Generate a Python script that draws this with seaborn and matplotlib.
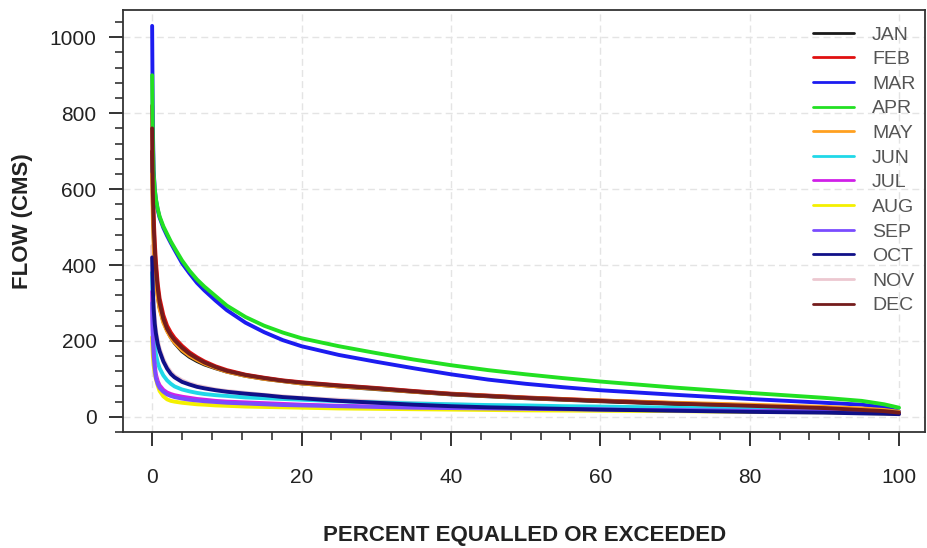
import matplotlib
matplotlib.use("Agg")
import matplotlib.pyplot as plt
from matplotlib.ticker import MultipleLocator
import pandas as pd
import seaborn as sns

# Percent of time flow is equalled or exceeded
percent = [0, 0.05, 0.1, 0.2, 0.35, 0.5, 0.75, 1, 1.5, 2, 2.5, 3, 4, 5, 6, 7, 8.5, 10,
           12.5, 15, 17.5, 20, 25, 30, 35, 40, 45, 50, 55, 60, 70, 80, 90, 95, 98, 100]

# Monthly flow duration curves (CMS)
jan = [700, 620, 560, 480, 410, 370, 320, 288, 252, 228, 210, 195, 173, 158, 147, 138, 128, 119,
       108, 100, 94, 88, 80, 73, 66, 59, 54, 49, 45, 41, 34, 28, 22, 17, 14, 10]
feb = [820, 700, 620, 530, 460, 410, 350, 312, 268, 240, 222, 208, 187, 170, 157, 146, 133, 123,
       111, 103, 96, 91, 83, 76, 68, 61, 56, 51, 47, 43, 36, 30, 23, 19, 16, 12]
mar = [1030, 880, 760, 650, 600, 572, 545, 525, 498, 477, 458, 440, 405, 378, 353, 333, 306, 281,
       248, 223, 202, 186, 163, 145, 128, 112, 98, 87, 78, 70, 58, 47, 37, 32, 25, 14]
apr = [900, 800, 720, 640, 600, 575, 548, 528, 502, 482, 462, 445, 412, 385, 362, 343, 318, 293,
       263, 240, 222, 207, 186, 168, 151, 136, 123, 112, 102, 93, 77, 63, 50, 42, 33, 24]
may = [640, 570, 520, 455, 400, 362, 315, 284, 248, 226, 209, 196, 176, 161, 150, 140, 129, 119,
       108, 100, 94, 88, 80, 74, 66, 60, 55, 50, 46, 43, 37, 32, 26, 22, 18, 13]
jun = [380, 320, 280, 230, 190, 165, 143, 128, 109, 96, 87, 80, 72, 67, 63, 60, 57, 55,
       51, 49, 47, 45, 41, 38, 35, 33, 31, 30, 28, 27, 24, 21, 18, 15, 13, 10]
jul = [330, 260, 220, 170, 135, 112, 94, 83, 71, 64, 60, 57, 53, 50, 47, 45, 42, 40,
       38, 36, 34, 32, 29, 27, 25, 24, 22, 21, 20, 19, 17, 15, 13, 11, 10, 8]
aug = [210, 180, 160, 136, 115, 100, 82, 68, 54, 46, 42, 40, 37, 35, 33, 32, 30, 29,
       27, 26, 25, 24, 22, 21, 20, 19, 18, 17, 16.5, 16, 15, 13, 12, 10, 9, 8]
sep = [300, 240, 200, 160, 125, 102, 86, 76, 66, 59, 55, 52, 48, 45, 43, 41, 39, 37,
       35, 33, 31, 30, 28, 26, 24, 23, 22, 21, 20, 19, 17, 16, 14, 12, 11, 9]
oct_ = [420, 370, 330, 285, 245, 220, 192, 173, 146, 127, 113, 104, 92, 85, 79, 75, 70, 66,
        61, 57, 52, 49, 42, 37, 32, 28, 25, 23, 21, 19, 16, 13, 11, 9, 8, 7]
nov = [450, 390, 350, 300, 258, 230, 200, 180, 152, 132, 118, 108, 96, 88, 82, 78, 72, 68,
       63, 58, 54, 50, 45, 40, 36, 33, 30, 28, 26, 24, 21, 18, 15, 12, 10, 8]
dec = [760, 660, 590, 505, 440, 392, 338, 300, 258, 232, 215, 202, 182, 166, 154, 143, 131, 121,
       110, 102, 95, 90, 82, 75, 67, 60, 55, 50, 46, 42, 35, 29, 23, 18, 15, 11]

months = ["JAN", "FEB", "MAR", "APR", "MAY", "JUN", "JUL", "AUG", "SEP", "OCT", "NOV", "DEC"]
series = [jan, feb, mar, apr, may, jun, jul, aug, sep, oct_, nov, dec]
colors = ["#1a1a1a", "#e01010", "#1c1cf0", "#22e022", "#ffa020", "#20d8e8",
          "#d020e8", "#f4f000", "#7a4cff", "#101088", "#ecc8d0", "#741c1c"]

frames = [pd.DataFrame({"percent": percent, "flow": vals, "month": m})
          for m, vals in zip(months, series)]
df = pd.concat(frames, ignore_index=True)

sns.set_theme(style="ticks")
plt.rcParams["font.family"] = ["Liberation Sans", "DejaVu Sans"]

fig = plt.figure(figsize=(9.27, 5.48), dpi=100)
ax = fig.add_axes([0.1327, 0.2117, 0.8653, 0.7701])

sns.lineplot(data=df, x="percent", y="flow", hue="month", hue_order=months,
             palette=dict(zip(months, colors)), linewidth=2.8, ax=ax,
             sort=False, estimator=None)

# keep the pale November trace underneath the others
for line in ax.lines:
    if line.get_color() == colors[10]:
        line.set_zorder(1.5)
    line.set_solid_joinstyle("round")
    line.set_solid_capstyle("round")

ax.set_xlim(-3.9, 103.5)
ax.set_ylim(-40, 1072)
ax.xaxis.set_major_locator(MultipleLocator(20))
ax.xaxis.set_minor_locator(MultipleLocator(4))
ax.yaxis.set_major_locator(MultipleLocator(200))
ax.yaxis.set_minor_locator(MultipleLocator(40))

ax.grid(True, which="major", color="#e4e4e4", linestyle=(0, (5, 3)), linewidth=1.0)
ax.set_axisbelow(True)

for side in ["left", "bottom", "top", "right"]:
    ax.spines[side].set_color("#333333")
    ax.spines[side].set_linewidth(1.3)

ax.tick_params(axis="both", which="major", length=10, width=1.4, color="#333333",
               labelsize=15, labelcolor="#222222")
ax.tick_params(axis="both", which="minor", length=5.5, width=1.2, color="#333333")
ax.tick_params(axis="x", which="major", pad=16)
ax.tick_params(axis="y", which="major", pad=9)

ax.set_xlabel("PERCENT EQUALLED OR EXCEEDED", fontsize=16, fontweight="bold",
              color="#222222", labelpad=27)
ax.set_ylabel("FLOW (CMS)", fontsize=16, fontweight="bold", color="#222222", labelpad=12)

leg = ax.legend(loc="upper left", bbox_to_anchor=(0.86, 0.962), frameon=False,
                fontsize=14, labelspacing=0.36, handlelength=2.1, handletextpad=0.95,
                borderaxespad=0, borderpad=0)
for text in leg.get_texts():
    text.set_color("#555555")
for handle in leg.get_lines():
    handle.set_linewidth(2.0)

fig.savefig("out.png", dpi=100)
